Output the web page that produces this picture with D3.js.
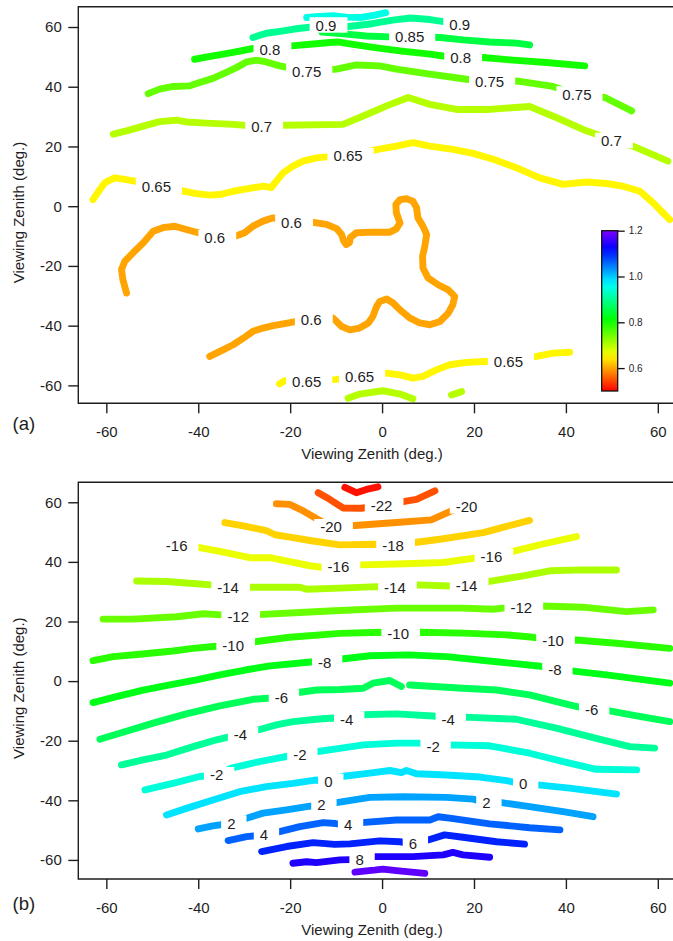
<!DOCTYPE html>
<html>
<head>
<meta charset="utf-8">
<script src="https://cdn.jsdelivr.net/npm/d3@7"></script>
<style>
  html, body { margin: 0; padding: 0; background: #fff; }
  svg { display: block; font-family: "Liberation Sans", Arial, sans-serif; }
</style>
</head>
<body>
<svg id="chart" width="673" height="941"></svg>
<script>
// ---------- axis ticks ----------
const xTicks = [-60, -40, -20, 0, 20, 40, 60];
const yTicks = [-60, -40, -20, 0, 20, 40, 60];
const barTicks = [0.6, 0.8, 1.0, 1.2];
const barRange = [0.5, 1.2];

// ---------- panel (a) contour lines, [x zenith, y zenith] in degrees ----------
const a060 = [[-55.6,-29.1],[-56.4,-24.6],[-56.7,-21.2],[-56.0,-18.5],[-54.2,-15.6],[-52.0,-12.3],[-49.8,-8.4],[-47.7,-7.2],[-45.1,-6.7],[-42.6,-7.8],[-40.0,-8.9],[-36.4,-10.6],[-32.0,-10.1],[-29.9,-8.9],[-28.1,-6.7],[-25.9,-5.0],[-23.7,-3.9],[-19.7,-5.4],[-15.0,-5.4],[-12.1,-6.1],[-9.9,-7.5],[-8.8,-9.5],[-8.4,-11.5],[-7.8,-12.9],[-7.1,-12.2],[-6.9,-10.5],[-5.6,-8.9],[-2.0,-8.7],[1.7,-8.7],[3.1,-7.6],[3.9,-5.6],[3.1,-2.2],[3.0,0.6],[3.9,2.2],[5.3,2.5],[6.7,1.7],[7.5,-0.5],[7.8,-3.9],[8.9,-6.7],[9.7,-9.5],[9.3,-13.4],[8.8,-16.8],[8.9,-20.7],[10.0,-24.0],[12.2,-26.3],[14.4,-28.0],[15.8,-30.2],[15.4,-33.0],[14.4,-35.8],[12.6,-38.6],[10.4,-39.7],[8.2,-39.1],[6.0,-37.4],[3.9,-34.7],[2.4,-32.4],[1.0,-31.1],[-0.5,-31.9],[-1.2,-33.6],[-2.0,-36.9],[-3.0,-39.1],[-4.9,-40.8],[-7.0,-41.4],[-8.8,-40.3],[-10.7,-37.4],[-15.4,-38.0],[-18.6,-38.6],[-21.5,-39.4],[-23.7,-40.0],[-25.9,-40.8],[-28.1,-41.9],[-30.2,-44.2],[-32.4,-46.4],[-34.6,-48.1],[-37.5,-50.3]];
const a065top = [[-62.9,2.2],[-61.4,5.6],[-60.3,7.9],[-58.2,9.5],[-56.0,9.0],[-53.8,8.4],[-49.1,6.7],[-42.9,5.0],[-40.4,4.2],[-37.5,3.7],[-35.3,3.9],[-32.4,5.0],[-29.5,5.8],[-25.9,6.7],[-24.1,6.2],[-23.0,8.4],[-21.5,11.2],[-19.4,13.4],[-17.2,15.1],[-14.3,16.2],[-11.4,16.6],[-7.4,16.8],[-0.9,19.0],[3.1,20.1],[6.7,21.3],[10.4,20.1],[15.4,19.0],[19.8,17.7],[24.2,15.7],[29.2,12.9],[34.3,9.5],[39.4,7.3],[44.5,8.1],[48.8,7.6],[52.4,6.7],[56.1,5.0],[59.0,1.1],[61.1,-2.2],[62.6,-4.5]];
const a065bot = [[-22.3,-59.5],[-21.2,-58.4],[-16.4,-58.7],[-9.9,-58.0],[-4.9,-57.0],[1.0,-55.9],[3.9,-56.5],[6.7,-57.6],[8.9,-57.0],[11.8,-54.8],[14.7,-53.1],[18.4,-52.3],[22.7,-52.0],[27.5,-51.9],[33.6,-50.3],[37.2,-49.2],[40.8,-48.9]];
const a070top = [[-58.5,24.1],[-55.6,25.2],[-52.0,26.8],[-48.4,28.3],[-44.7,28.8],[-42.6,28.2],[-38.2,27.8],[-32.4,27.4],[-26.2,26.6],[-21.5,27.1],[-8.5,27.4],[-4.1,30.2],[1.0,33.6],[5.7,36.4],[10.4,34.1],[16.2,32.4],[23.4,32.4],[32.1,33.4],[37.9,29.7],[43.7,25.7],[46.6,24.1],[49.9,21.9],[54.6,20.1],[62.2,15.1]];
const a070bot1 = [[-7.4,-64.3],[-4.9,-62.9],[0.2,-61.8],[3.9,-62.9],[6.7,-64.5]];
const a070bot2 = [[15.1,-63.2],[17.3,-62.1]];
const a075 = [[-50.9,37.7],[-48.4,39.2],[-45.5,40.1],[-41.8,40.3],[-39.7,41.4],[-36.8,42.8],[-33.9,44.8],[-31.7,46.4],[-29.5,48.3],[-27.3,48.9],[-25.2,48.3],[-22.3,47.0],[-16.4,45.2],[-9.9,45.9],[-5.6,47.3],[-0.5,47.0],[3.1,45.9],[10.4,44.2],[18.4,42.5],[23.4,41.7],[29.6,41.9],[37.2,40.1],[42.4,37.5],[48.5,36.4],[54.3,31.9]];
const a080 = [[-40.8,49.2],[-36.8,50.3],[-32.4,51.5],[-28.1,52.8],[-24.4,52.6],[-19.7,53.7],[-15.0,54.3],[-11.4,54.8],[-9.6,55.0],[-7.7,54.5],[-2.0,53.2],[3.9,52.0],[10.4,50.9],[13.3,50.3],[17.1,49.7],[22.0,49.8],[28.5,48.9],[35.8,48.1],[44.1,47.0]];
const a085 = [[-13.1,58.3],[-7.7,57.6],[-3.4,57.0],[1.7,56.7],[6.0,56.8],[12.6,56.5],[17.6,55.7],[23.4,55.0],[29.2,54.6],[32.1,54.0]];
const a090 = [[-28.1,56.5],[-25.2,57.9],[-21.5,58.7],[-18.3,59.5],[-15.7,59.9],[-7.7,60.1],[-2.2,61.1],[2.3,62.3],[6.2,63.0],[10.4,62.5],[13.4,61.8],[16.0,61.0]];
const a095 = [[-16.4,63.2],[-13.6,63.5],[-10.7,63.8],[-7.9,63.3],[-4.4,63.2],[-1.6,64.0],[0.8,64.8]];

// label positions for panel (a): [x, y, level]
const labelsA = [[-12.2,60.6,0.9],[16.9,60.8,0.9],[6.0,56.8,0.85],[-24.4,52.6,0.8],[17.1,49.7,0.8],[-16.4,45.2,0.75],[23.4,41.7,0.75],[42.4,37.5,0.75],[-26.2,26.6,0.7],[49.9,21.9,0.7],[-49.1,6.7,0.65],[-7.4,16.8,0.65],[-16.4,-58.7,0.65],[-4.9,-57.0,0.65],[27.5,-51.9,0.65],[-36.4,-10.6,0.6],[-19.7,-5.4,0.6],[-15.4,-38.0,0.6]];

// ---------- panel (b) contour lines ----------
const bM24 = [[-8.1,65.0],[-5.6,63.2],[-3.4,64.3],[-0.9,65.2]];
const bM22 = [[-13.9,63.2],[-11.4,61.0],[-8.5,58.1],[-4.5,58.0],[-0.1,59.0],[4.9,60.3],[7.5,61.0],[11.5,63.8]];
const bM20 = [[-23.0,59.5],[-20.1,59.3],[-17.5,57.4],[-14.6,54.8],[-11.1,51.7],[-5.9,52.2],[3.1,53.2],[10.7,54.1],[15.1,57.1],[18.4,58.7]];
const bM18 = [[-34.2,53.2],[-30.2,52.1],[-25.2,50.5],[-23.3,49.1],[-20.1,48.3],[-15.0,47.0],[-9.2,45.7],[-1.6,45.9],[2.4,45.4],[7.1,46.5],[12.6,47.6],[22.0,49.8],[26.3,51.6],[32.1,53.9]];
const bM16 = [[-42.7,45.0],[-40.0,44.9],[-35.3,43.5],[-28.8,41.4],[-24.4,41.4],[-20.1,40.1],[-15.7,38.7],[-13.2,38.2],[-9.5,38.3],[-4.5,39.0],[3.1,39.3],[13.3,39.8],[19.8,41.2],[23.8,41.8],[28.5,43.5],[35.0,46.0],[42.3,48.5]];
const bM14 = [[-53.4,33.6],[-46.9,33.4],[-42.6,32.9],[-37.1,32.3],[-33.5,31.5],[-28.8,31.5],[-17.9,31.5],[-16.4,30.8],[-9.2,31.2],[-1.2,31.7],[2.8,31.5],[7.5,32.3],[14.7,31.9],[18.4,31.9],[23.1,33.4],[30.7,35.3],[36.5,37.0],[43.7,37.3],[51.0,37.3]];
const bM12 = [[-60.7,20.8],[-54.2,20.8],[-44.7,21.6],[-38.9,22.6],[-34.9,22.2],[-31.3,21.6],[-28.1,22.2],[-17.9,23.0],[-9.2,23.7],[3.1,24.5],[17.6,24.5],[24.2,24.1],[26.3,24.5],[30.3,24.8],[35.0,25.2],[43.7,24.8],[53.2,23.3],[59.0,23.9]];
const bM10 = [[-62.9,6.9],[-58.5,8.2],[-52.7,9.0],[-45.5,10.1],[-41.1,11.0],[-36.8,11.6],[-32.4,11.9],[-27.3,13.3],[-20.1,14.7],[-9.2,16.0],[-0.1,16.4],[3.5,15.8],[8.6,16.4],[17.6,16.1],[27.1,15.5],[32.9,14.7],[37.2,13.6],[42.3,13.8],[51.0,12.7],[62.6,11.0]];
const bM8 = [[-62.9,-7.2],[-57.8,-5.2],[-52.0,-3.0],[-46.2,-1.3],[-40.4,0.4],[-35.3,2.1],[-29.5,3.8],[-24.4,5.1],[-15.0,6.5],[-12.5,6.3],[-8.8,7.4],[-2.7,8.5],[5.7,8.8],[14.0,8.2],[24.9,6.5],[35.0,4.9],[37.6,3.8],[40.8,3.5],[48.8,2.1],[62.6,-0.7]];
const bM6a = [[-61.4,-19.5],[-57.1,-17.5],[-49.8,-14.1],[-42.6,-11.0],[-35.3,-8.3],[-28.1,-6.1],[-21.9,-5.4],[-18.6,-3.9],[-14.3,-3.0],[-9.2,-2.8],[-4.1,-2.4],[-2.0,-0.7],[1.7,0.2],[4.2,-1.8]];
const bM6b = [[6.0,-1.3],[17.6,-2.4],[24.9,-3.0],[32.1,-4.6],[40.8,-8.0],[45.6,-9.7],[49.2,-9.9],[55.4,-11.7],[62.6,-13.6]];
const bM4 = [[-56.7,-28.1],[-52.0,-26.4],[-46.9,-24.8],[-41.1,-22.0],[-36.0,-19.7],[-33.1,-18.6],[-30.8,-18.1],[-27.0,-16.4],[-23.0,-14.7],[-19.4,-13.6],[-14.3,-12.8],[-10.7,-12.4],[-7.7,-12.8],[-4.5,-11.3],[3.1,-11.0],[11.1,-11.7],[14.4,-12.8],[18.0,-12.1],[29.2,-12.8],[37.9,-15.8],[46.6,-19.2],[53.9,-22.0],[59.3,-22.5]];
const bM2 = [[-51.6,-36.5],[-45.5,-34.3],[-39.7,-32.0],[-36.0,-31.5],[-32.8,-29.2],[-28.1,-27.5],[-23.0,-25.9],[-20.8,-25.3],[-17.9,-24.8],[-14.3,-23.7],[-9.2,-22.6],[-4.1,-21.4],[3.1,-20.8],[8.2,-20.8],[11.1,-22.0],[14.4,-21.4],[23.4,-21.7],[32.1,-24.2],[39.4,-27.0],[46.6,-29.6],[55.4,-29.8]];
const b0 = [[-46.9,-44.9],[-42.6,-42.7],[-36.8,-39.9],[-31.0,-37.1],[-25.2,-35.4],[-19.4,-34.3],[-14.6,-33.2],[-11.7,-33.7],[-8.8,-32.0],[-2.7,-30.9],[1.7,-30.0],[4.2,-30.7],[5.3,-30.0],[7.5,-31.1],[14.0,-31.5],[21.3,-32.2],[27.1,-33.4],[30.7,-34.5],[33.9,-34.8],[40.8,-35.9],[51.0,-37.9]];
const bP2 = [[-40.0,-49.6],[-36.8,-48.6],[-32.8,-47.7],[-29.5,-46.0],[-25.9,-44.3],[-20.8,-43.2],[-16.4,-42.1],[-13.2,-41.5],[-9.9,-40.8],[-2.7,-39.0],[4.6,-38.8],[14.0,-39.0],[19.8,-39.6],[22.7,-40.8],[26.0,-40.8],[32.1,-42.1],[39.4,-43.8],[45.9,-45.5]];
const bP4 = [[-33.5,-53.5],[-29.5,-52.2],[-25.7,-51.6],[-22.3,-50.5],[-17.9,-48.8],[-12.8,-47.5],[-10.1,-47.8],[-7.4,-48.3],[-4.5,-47.5],[3.1,-46.6],[10.4,-46.6],[12.2,-45.5],[14.7,-46.0],[23.4,-47.9],[32.1,-49.2],[38.7,-49.9]];
const bP6 = [[-26.2,-57.2],[-20.8,-55.5],[-15.0,-54.2],[-10.3,-54.8],[-7.0,-54.6],[-0.5,-53.6],[3.9,-53.9],[6.7,-54.6],[10.0,-53.3],[13.6,-51.6],[17.6,-52.4],[24.9,-53.9],[31.0,-54.7]];
const bP8 = [[-19.4,-61.1],[-16.4,-60.6],[-14.3,-60.9],[-9.2,-60.0],[-4.9,-59.8],[-1.6,-58.9],[6.7,-58.9],[13.3,-58.3],[15.4,-57.5],[17.6,-58.3],[23.4,-59.1]];
const bP10 = [[-5.9,-64.1],[0.2,-63.1],[3.1,-63.6],[9.3,-64.5]];

// label positions for panel (b): [x, y, level]
const labelsB = [[-0.1,59.0,-22],[-11.1,51.7,-20],[18.4,58.7,-20],[2.4,45.4,-18],[-44.7,45.4,-16],[-9.5,38.3,-16],[23.8,41.8,-16],[-33.5,31.5,-14],[2.8,31.5,-14],[18.4,31.9,-14],[-31.3,21.6,-12],[30.3,24.8,-12],[-32.4,11.9,-10],[3.5,15.8,-10],[37.2,13.6,-10],[-12.5,6.3,-8],[37.6,3.8,-8],[-21.9,-5.4,-6],[45.6,-9.7,-6],[-30.8,-18.1,-4],[-7.7,-12.8,-4],[14.4,-12.8,-4],[-36.0,-31.5,-2],[-17.9,-24.8,-2],[11.1,-22.0,-2],[-11.7,-33.7,0],[30.7,-34.5,0],[-32.8,-47.7,2],[-13.2,-41.5,2],[22.7,-40.8,2],[-25.7,-51.6,4],[-7.4,-48.3,4],[6.7,-54.6,6],[-4.9,-59.8,8]];

// level -> line list tables
const contoursA = [
  [0.6, a060], [0.65, a065top], [0.65, a065bot], [0.7, a070top], [0.7, a070bot1], [0.7, a070bot2],
  [0.75, a075], [0.8, a080], [0.85, a085], [0.9, a090], [0.95, a095]
];
const contoursB = [
  [-24, bM24], [-22, bM22], [-20, bM20], [-18, bM18], [-16, bM16], [-14, bM14], [-12, bM12],
  [-10, bM10], [-8, bM8], [-6, bM6a], [-6, bM6b], [-4, bM4], [-2, bM2], [0, b0],
  [2, bP2], [4, bP4], [6, bP6], [8, bP8], [10, bP10]
];

// ---------- layout ----------
const svg = d3.select("#chart");
const plotLeft = 78.3, plotRight = 676.2;
const xDomain = [-66.1, 64];
const ink = "#1e1e1e";

// rainbow colour table: red at the low end through violet at the high end
function rainbow(domain) {
  const h = d3.scaleLinear().domain(domain).range([0, 270]).clamp(true);
  return v => d3.hsl(h(v), 1, 0.5).formatHex();
}
const colorA = rainbow([0.5, 1.2]);
const colorB = rainbow([-24.5, 11]);

function drawPanel(cfg) {
  const x = d3.scaleLinear().domain(xDomain).range([plotLeft, plotRight]);
  const y = d3.scaleLinear().domain(cfg.yDomain).range([cfg.bottom, cfg.top]);
  const g = svg.append("g");

  g.append("clipPath").attr("id", cfg.id + "-clip")
    .append("rect")
    .attr("x", plotLeft).attr("y", cfg.top)
    .attr("width", plotRight - plotLeft).attr("height", cfg.bottom - cfg.top);

  const plot = g.append("g").attr("clip-path", `url(#${cfg.id}-clip)`);
  const line = d3.line().x(d => x(d[0])).y(d => y(d[1]));

  plot.selectAll("path.contour")
    .data(cfg.contours)
    .join("path")
    .attr("class", "contour")
    .attr("d", d => line(d[1]))
    .attr("fill", "none")
    .attr("stroke", d => cfg.color(d[0]))
    .attr("stroke-width", 6.9)
    .attr("stroke-linecap", "round")
    .attr("stroke-linejoin", "round");

  // contour labels sit on a white box that breaks the line
  const labLayer = g.append("g").attr("font-size", 15).attr("fill", ink);
  cfg.labels.forEach(([lx, ly, lv]) => {
    const px = x(lx), py = y(ly);
    const box = labLayer.append("rect").attr("fill", "#fff");
    const t = labLayer.append("text")
      .attr("x", px).attr("y", py).attr("dy", "0.36em")
      .attr("text-anchor", "middle")
      .text(String(lv));
    const w = t.node().getComputedTextLength();
    box.attr("x", px - w / 2 - 6).attr("y", py - 8)
       .attr("width", w + 17).attr("height", 15.5);
  });

  // axes
  const xAxis = g.append("g")
    .attr("transform", `translate(0,${cfg.bottom})`)
    .call(d3.axisBottom(x).tickValues(xTicks).tickFormat(d => String(d))
      .tickSize(10).tickSizeOuter(0).tickPadding(13));
  const yAxis = g.append("g")
    .attr("transform", `translate(${plotLeft},0)`)
    .call(d3.axisLeft(y).tickValues(yTicks).tickFormat(d => String(d))
      .tickSize(10).tickSizeOuter(0).tickPadding(6.5));
  [xAxis, yAxis].forEach(a => {
    a.select(".domain").remove();
    a.selectAll(".tick line").attr("stroke", ink).attr("stroke-width", 1.4);
    a.selectAll(".tick text").attr("fill", ink).attr("font-size", 15)
      .attr("font-family", "Liberation Sans, Arial, sans-serif");
  });

  // frame: left, top and bottom edges
  g.append("path")
    .attr("d", `M${plotRight},${cfg.top}H${plotLeft}V${cfg.bottom}H${plotRight}`)
    .attr("fill", "none").attr("stroke", ink).attr("stroke-width", 1.4);

  // axis titles and panel tag
  g.append("text")
    .attr("x", 372).attr("y", cfg.bottom + 56)
    .attr("text-anchor", "middle").attr("font-size", 15).attr("fill", ink)
    .text("Viewing Zenith (deg.)");
  const cy = (cfg.top + cfg.bottom) / 2 + 7.5;
  g.append("text")
    .attr("transform", `translate(24,${cy}) rotate(-90)`)
    .attr("text-anchor", "middle").attr("font-size", 15).attr("fill", ink)
    .text("Viewing Zenith (deg.)");
  g.append("text")
    .attr("x", 12.5).attr("y", cfg.tagY)
    .attr("font-size", 18.5).attr("fill", ink)
    .text(cfg.tag);

  return { x, y, g };
}

drawPanel({
  id: "pa", top: 6.7, bottom: 403.3, yDomain: [-66, 66.8],
  contours: contoursA, labels: labelsA, color: colorA, tag: "(a)", tagY: 430
});
drawPanel({
  id: "pb", top: 482.3, bottom: 879, yDomain: [-66.4, 66.7],
  contours: contoursB, labels: labelsB, color: colorB, tag: "(b)", tagY: 910
});

// colour bar for panel (a)
const barX = 601.7, barW = 16;
const barY = d3.scaleLinear().domain(barRange).range([391, 230.7]);
const defs = svg.append("defs");
const grad = defs.append("linearGradient").attr("id", "barGrad")
  .attr("x1", 0).attr("y1", 1).attr("x2", 0).attr("y2", 0);
d3.range(0, 1.0001, 0.05).forEach(t => {
  const v = barRange[0] + t * (barRange[1] - barRange[0]);
  grad.append("stop").attr("offset", t).attr("stop-color", colorA(v));
});
const bar = svg.append("g");
bar.append("rect")
  .attr("x", barX).attr("y", barY(barRange[1]))
  .attr("width", barW).attr("height", barY(barRange[0]) - barY(barRange[1]))
  .attr("fill", "url(#barGrad)").attr("stroke", "#111").attr("stroke-width", 1.3);
const barAxis = bar.append("g")
  .attr("transform", `translate(${barX + barW},0)`)
  .call(d3.axisRight(barY).tickValues(barTicks).tickFormat(d3.format(".1f"))
    .tickSize(7).tickSizeOuter(0).tickPadding(4));
barAxis.select(".domain").remove();
barAxis.selectAll(".tick line").attr("stroke", "#111").attr("stroke-width", 1.3);
barAxis.selectAll(".tick text").attr("fill", ink).attr("font-size", 10)
  .attr("font-family", "Liberation Sans, Arial, sans-serif");
</script>
</body>
</html>
